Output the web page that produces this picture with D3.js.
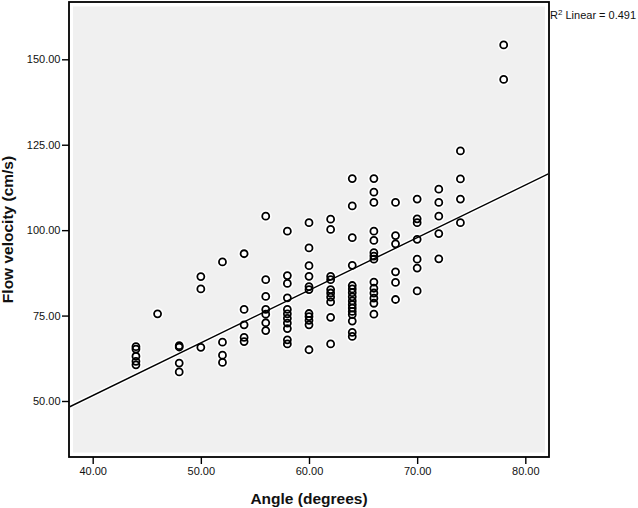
<!DOCTYPE html>
<html>
<head>
<meta charset="utf-8">
<script src="https://cdn.jsdelivr.net/npm/d3@7/dist/d3.min.js"></script>
<style>
  html, body { margin: 0; padding: 0; background: #fff; }
  svg { display: block; }
  text { font-family: Arial, "Liberation Sans", sans-serif; }
</style>
</head>
<body>
<svg id="chart" width="638" height="508"></svg>
<script>
// ---- data ----
const angleGroups = [44, 46, 48, 50, 52, 54, 56, 58, 60, 62, 64, 66, 68, 70, 72, 74, 78];
const velocityGroups = [
  [65.9, 65.2, 63.1, 61.6, 60.6],
  [75.5],
  [66.2, 65.8, 61.1, 58.5],
  [86.4, 82.8, 65.7],
  [90.7, 67.2, 63.4, 61.3],
  [93.1, 76.8, 72.3, 68.6, 67.4],
  [104.1, 85.5, 80.6, 76.8, 75.4, 72.9, 70.6],
  [99.7, 86.7, 84.4, 80.2, 76.8, 75.5, 74.2, 72.8, 71.2, 67.9, 66.7],
  [102.2, 94.8, 89.6, 86.5, 83.5, 82.6, 75.6, 74.7, 73.6, 72.3, 65.0],
  [103.2, 100.2, 86.5, 85.5, 82.6, 81.6, 80.4, 79.0, 74.5, 66.7],
  [115.1, 107.1, 97.8, 89.7, 83.8, 82.8, 81.7, 80.5, 79.3, 78.2, 77.2, 76.2, 75.3, 73.4, 70.1, 68.9],
  [115.1, 111.1, 108.1, 99.7, 97.0, 93.4, 92.4, 91.5, 84.8, 83.0, 81.6, 80.1, 78.6, 75.4],
  [108.1, 98.4, 96.0, 87.8, 84.7, 79.7],
  [109.1, 103.3, 102.2, 97.3, 91.5, 88.9, 82.2],
  [112.0, 108.1, 104.1, 99.0, 91.6],
  [123.2, 115.0, 109.1, 102.2],
  [154.2, 144.1]
];
const xTicks = [40, 50, 60, 70, 80];
const yTicks = [50, 75, 100, 125, 150];
const xDomain = [37.81, 82.19];
const yDomain = [33.61, 166.77];
const fitIntercept = -10.03;
const fitSlope = 1.5405;
const r2Label = "0.491";
const xTitle = "Angle (degrees)";
const yTitle = "Flow velocity (cm/s)";

// ---- layout ----
const frame = { left: 69, right: 549, top: 2, bottom: 457 };
const svg = d3.select("#chart");

const x = d3.scaleLinear().domain(xDomain).range([frame.left, frame.right]);
const y = d3.scaleLinear().domain(yDomain).range([frame.bottom, frame.top]);

const points = [];
angleGroups.forEach((a, i) => velocityGroups[i].forEach(v => points.push({ a, v })));

// plot background
svg.append("rect")
  .attr("x", frame.left).attr("y", frame.top)
  .attr("width", frame.right - frame.left).attr("height", frame.bottom - frame.top)
  .attr("fill", "#fff");
svg.append("rect")
  .attr("x", frame.left + 4).attr("y", frame.top + 4.5)
  .attr("width", frame.right - frame.left - 8).attr("height", frame.bottom - frame.top - 9)
  .attr("fill", "#f0f0f0");

svg.append("clipPath").attr("id", "clip")
  .append("rect")
  .attr("x", frame.left + 1).attr("y", frame.top + 1)
  .attr("width", frame.right - frame.left - 2).attr("height", frame.bottom - frame.top - 2);

const plot = svg.append("g").attr("clip-path", "url(#clip)");

// fit line with white halo
const line = d3.line().x(d => x(d)).y(d => y(fitIntercept + fitSlope * d));
plot.append("path").datum(xDomain).attr("d", line)
  .attr("fill", "none").attr("stroke", "#fff").attr("stroke-width", 4.5);

// point halos
plot.selectAll("circle.halo").data(points).join("circle")
  .attr("class", "halo")
  .attr("cx", d => x(d.a)).attr("cy", d => y(d.v))
  .attr("r", 6).attr("fill", "#fff");

plot.append("path").datum(xDomain).attr("d", line)
  .attr("fill", "none").attr("stroke", "#000").attr("stroke-width", 1.4);

// points
plot.selectAll("circle.pt").data(points).join("circle")
  .attr("class", "pt")
  .attr("cx", d => x(d.a)).attr("cy", d => y(d.v))
  .attr("r", 3.5).attr("fill", "none")
  .attr("stroke", "#000").attr("stroke-width", 1.8);

// frame
svg.append("rect")
  .attr("x", frame.left).attr("y", frame.top)
  .attr("width", frame.right - frame.left).attr("height", frame.bottom - frame.top)
  .attr("fill", "none").attr("stroke", "#000").attr("stroke-width", 1.8);

// axes
const xAxis = d3.axisBottom(x).tickValues(xTicks).tickFormat(d3.format(".2f"))
  .tickSize(7).tickPadding(3);
const yAxis = d3.axisLeft(y).tickValues(yTicks).tickFormat(d3.format(".2f"))
  .tickSize(7).tickPadding(1.5);

const gx = svg.append("g").attr("transform", `translate(0,${frame.bottom})`).call(xAxis);
const gy = svg.append("g").attr("transform", `translate(${frame.left},0)`).call(yAxis);
[gx, gy].forEach(g => {
  g.select(".domain").remove();
  g.selectAll(".tick line").attr("stroke", "#000").attr("stroke-width", 1.4);
  g.selectAll(".tick text").attr("fill", "#111")
    .style("font-size", "11px").style("font-family", "Arial, 'Liberation Sans', sans-serif");
});

// axis titles
svg.append("text")
  .attr("x", (frame.left + frame.right) / 2).attr("y", 504)
  .attr("text-anchor", "middle")
  .style("font-size", "15.5px").style("font-weight", "bold").attr("fill", "#111")
  .text(xTitle);

svg.append("text")
  .attr("transform", `translate(13,${(frame.top + frame.bottom) / 2}) rotate(-90)`)
  .attr("text-anchor", "middle")
  .style("font-size", "15.5px").style("font-weight", "bold").attr("fill", "#111")
  .text(yTitle);

// R² label
const r2 = svg.append("text")
  .attr("x", frame.right + 1).attr("y", 19)
  .style("font-size", "11px").attr("fill", "#111");
r2.append("tspan").text("R");
r2.append("tspan").attr("dy", -4).style("font-size", "8px").text("2");
r2.append("tspan").attr("dy", 4).text(" Linear = " + r2Label);
</script>
</body>
</html>
